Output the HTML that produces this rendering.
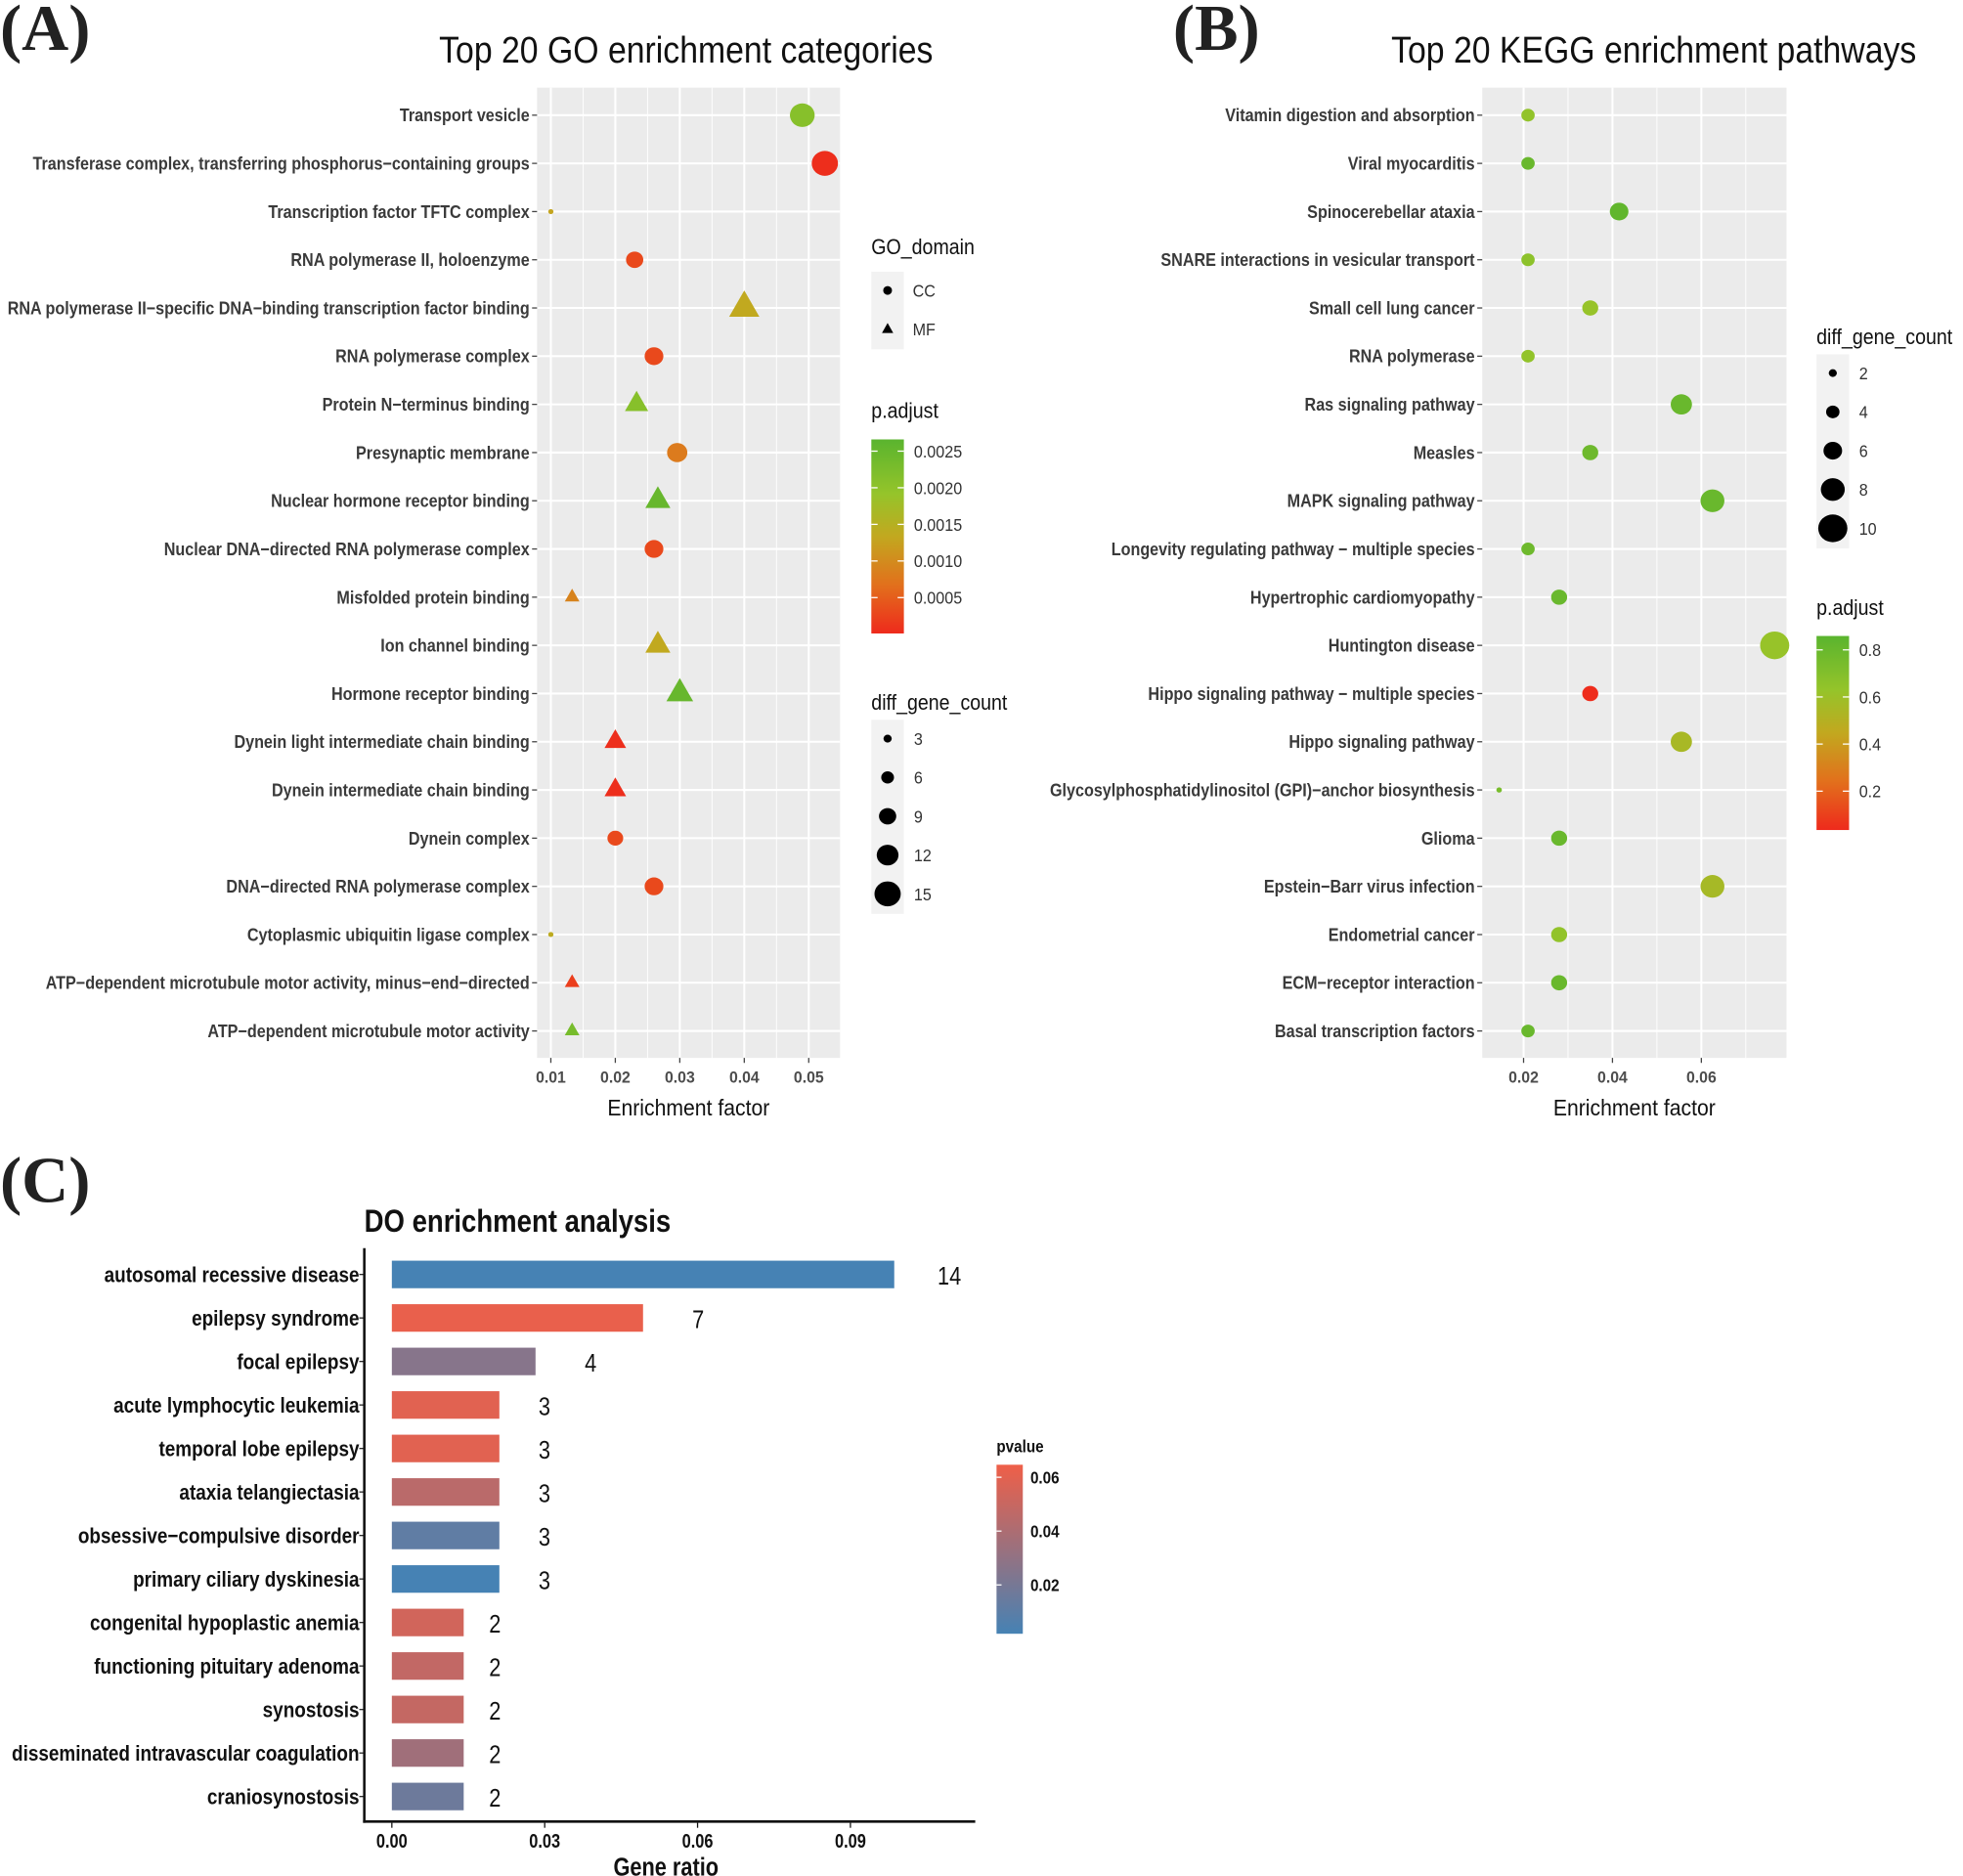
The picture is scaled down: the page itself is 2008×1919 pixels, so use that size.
<!DOCTYPE html>
<html><head><meta charset="utf-8"><style>
html,body{margin:0;padding:0;background:#fff;}
svg{display:block;}
</style></head><body>
<svg id="fig" xmlns="http://www.w3.org/2000/svg" width="2008" height="1919" viewBox="0 0 1568 1498.5" preserveAspectRatio="none" font-family="Liberation Sans, Arial, sans-serif">
<rect width="1568" height="1498.5" fill="#fff"/>
<text x="0" y="40" font-family="Liberation Serif, serif" font-weight="bold" font-size="52" fill="#222">(A)</text>
<text x="937" y="40" font-family="Liberation Serif, serif" font-weight="bold" font-size="52" fill="#222">(B)</text>
<text x="0" y="960" font-family="Liberation Serif, serif" font-weight="bold" font-size="52" fill="#222">(C)</text>
<g id="A"></g>
<g id="B"></g>
<g id="C"></g>
</svg>
<script>
// ---------- Panel A data ----------
const goTerms = ["Transport vesicle","Transferase complex, transferring phosphorus\u2212containing groups","Transcription factor TFTC complex","RNA polymerase II, holoenzyme","RNA polymerase II\u2212specific DNA\u2212binding transcription factor binding","RNA polymerase complex","Protein N\u2212terminus binding","Presynaptic membrane","Nuclear hormone receptor binding","Nuclear DNA\u2212directed RNA polymerase complex","Misfolded protein binding","Ion channel binding","Hormone receptor binding","Dynein light intermediate chain binding","Dynein intermediate chain binding","Dynein complex","DNA\u2212directed RNA polymerase complex","Cytoplasmic ubiquitin ligase complex","ATP\u2212dependent microtubule motor activity, minus\u2212end\u2212directed","ATP\u2212dependent microtubule motor activity"];
const goFactor = [0.049,0.0525,0.010,0.023,0.040,0.026,0.0233,0.0296,0.0266,0.026,0.0133,0.0266,0.030,0.020,0.020,0.020,0.026,0.010,0.0133,0.0133];
const goCount = [14,15,1,9,15,10,11,11,12,10,6,12,13,10,10,8,10,1,6,6];
const goPadj = [0.0021,0.00005,0.0013,0.0003,0.00135,0.0003,0.0021,0.0008,0.0025,0.0003,0.0009,0.00135,0.0025,0.00005,0.00005,0.0003,0.0003,0.0014,0.0002,0.0023];
const goDomain = ["CC","CC","CC","CC","MF","CC","MF","CC","MF","CC","MF","MF","MF","MF","MF","CC","CC","CC","MF","MF"];
const goTicks = [0.01,0.02,0.03,0.04,0.05];
const goPadjTicks = [0.0025,0.0020,0.0015,0.0010,0.0005];
const goSizeBreaks = [3,6,9,12,15];
// ---------- Panel B data ----------
const keggTerms = ["Vitamin digestion and absorption","Viral myocarditis","Spinocerebellar ataxia","SNARE interactions in vesicular transport","Small cell lung cancer","RNA polymerase","Ras signaling pathway","Measles","MAPK signaling pathway","Longevity regulating pathway \u2212 multiple species","Hypertrophic cardiomyopathy","Huntington disease","Hippo signaling pathway \u2212 multiple species","Hippo signaling pathway","Glycosylphosphatidylinositol (GPI)\u2212anchor biosynthesis","Glioma","Epstein\u2212Barr virus infection","Endometrial cancer","ECM\u2212receptor interaction","Basal transcription factors"];
const keggFactor = [0.021,0.021,0.0415,0.021,0.035,0.021,0.0555,0.035,0.0625,0.021,0.028,0.0765,0.035,0.0555,0.0145,0.028,0.0625,0.028,0.028,0.021];
const keggCount = [4,4,6,4,5,4,7,5,8,4,5,10,5,7,1,5,8,5,5,4];
const keggPadj = [0.64,0.8,0.83,0.66,0.62,0.64,0.8,0.78,0.8,0.78,0.8,0.62,0.04,0.55,0.74,0.8,0.56,0.64,0.8,0.8];
const keggTicks = [0.02,0.04,0.06];
const keggPadjTicks = [0.8,0.6,0.4,0.2];
const keggSizeBreaks = [2,4,6,8,10];
// ---------- Panel C data ----------
const doTerms = ["autosomal recessive disease","epilepsy syndrome","focal epilepsy","acute lymphocytic leukemia","temporal lobe epilepsy","ataxia telangiectasia","obsessive\u2212compulsive disorder","primary ciliary dyskinesia","congenital hypoplastic anemia","functioning pituitary adenoma","synostosis","disseminated intravascular coagulation","craniosynostosis"];
const doRatio = [0.0986,0.0493,0.0282,0.0211,0.0211,0.0211,0.0211,0.0211,0.0141,0.0141,0.0141,0.0141,0.0141];
const doCount = [14,7,4,3,3,3,3,3,2,2,2,2,2];
const doPvalue = [0.001,0.064,0.026,0.061,0.061,0.046,0.011,0.001,0.055,0.049,0.050,0.036,0.016];
const doTicks = [0.00,0.03,0.06,0.09];
const doPTicks = [0.06,0.04,0.02];

const NS="http://www.w3.org/2000/svg";
function el(tag, attrs, parent){const e=document.createElementNS(NS,tag);for(const k in attrs)e.setAttribute(k,attrs[k]);parent.appendChild(e);return e;}
function txt(parent,s,x,y,size,anchor,sx,fill,weight){
  const t=el('text',{transform:`translate(${x},${y}) scale(${sx},1)`,'text-anchor':anchor,'font-size':size,fill:fill,'font-weight':weight||'normal'},parent);
  t.textContent=s;return t;}
function hex(c){return [parseInt(c.slice(1,3),16),parseInt(c.slice(3,5),16),parseInt(c.slice(5,7),16)];}
function ramp(stops,f){f=Math.max(0,Math.min(1,f));for(let i=1;i<stops.length;i++){if(f<=stops[i][0]){const a=stops[i-1],b=stops[i];const t=(f-a[0])/(b[0]-a[0]);const ca=hex(a[1]),cb=hex(b[1]);return 'rgb('+ca.map((v,j)=>Math.round(v+(cb[j]-v)*t)).join(',')+')';}}return stops[stops.length-1][1];}
const RG=[[0,'#ee2a1c'],[0.25,'#e2701c'],[0.5,'#c2a81f'],[0.72,'#95c42a'],[1,'#5ab42e']];
const BR=[[0,'#4682b4'],[1,'#ef5f48']];
let gid=0;
function vgrad(svg,stops){const id='g'+(gid++);let defs=svg.querySelector('defs')||el('defs',{},svg);const g=el('linearGradient',{id:id,x1:0,y1:1,x2:0,y2:0},defs);stops.forEach(s=>el('stop',{offset:s[0],'stop-color':s[1]},g));return id;}
const svg=document.getElementById('fig');
const rowY=i=>92+i*38.5;
const RY=0.95;

function dotPanel(g, o){
  const xs=v=>o.px0+(v-o.v0)*o.k;
  const bg=el('rect',{x:o.L,y:70,width:o.R-o.L,height:775,fill:'#ebebeb'},g);
  
  
  o.minor.forEach(v=>{const l=el('line',{x1:xs(v),x2:xs(v),y1:70,y2:845,stroke:'#fff','stroke-width':0.7},g);
    
    });
  o.ticks.forEach(v=>{const l=el('line',{x1:xs(v),x2:xs(v),y1:70,y2:845,stroke:'#fff','stroke-width':1.6},g);
    
    
    const tk=el('line',{x1:xs(v),x2:xs(v),y1:845,y2:849,stroke:'#444','stroke-width':1},g);
    
    
    const t=txt(g,v.toFixed(2),xs(v),865,13,'middle',0.95,'#4d4d4d','bold');
    
    });
  o.terms.forEach((s,i)=>{const y=rowY(i);
    const l=el('line',{x1:o.L,x2:o.R,y1:y,y2:y,stroke:'#fff','stroke-width':1.6},g);
    
    
    const tk=el('line',{x1:o.L-4,x2:o.L,y1:y,y2:y,stroke:'#444','stroke-width':1},g);
    
    
    const t=txt(g,s,o.L-6,y+5,14.5,'end',0.87,'#3a3a3a','bold');
    
    });
  o.terms.forEach((s,i)=>{const x=xs(o.fac[i]),y=rowY(i);const rx=o.rx(o.cnt[i]),ry=rx*RY;const col=ramp(RG,(o.padj[i]-o.pmin)/(o.pmax-o.pmin));
    let m;
    if(o.dom && o.dom[i]==='MF'){const h=rx*1.15,H=rx*2.0;m=el('polygon',{points:`${x-h},${y+H/3} ${x+h},${y+H/3} ${x},${y-2*H/3}`,fill:col},g);}
    else m=el('ellipse',{cx:x,cy:y,rx:rx,ry:ry,fill:col},g);
    
    });
  const xt=txt(g,'Enrichment factor',(o.L+o.R)/2,891,18,'middle',0.92,'#111');
  
  
  const tt=txt(g,o.title,o.titleX,50,30,'middle',0.88,'#111');
  
  
  return xs;
}
function colorLegend(g,x,top,bot,title,ticks,pmin,pmax,stops,fmt){
  const t=txt(g,title,x,top-17,17,'start',0.9,'#111');
  
  
  const id=vgrad(svg,stops);
  const r=el('rect',{x:x,y:top,width:26,height:bot-top,fill:`url(#${id})`},g);
  
  
  ticks.forEach(v=>{const y=bot-(v-pmin)/(pmax-pmin)*(bot-top);
    const l=el('line',{x1:x,x2:x+5,y1:y,y2:y,stroke:'#fff','stroke-width':1},g);
    
    
    const l2=el('line',{x1:x+21,x2:x+26,y1:y,y2:y,stroke:'#fff','stroke-width':1},g);
    
    
    const tl=txt(g,fmt(v),x+34,y+5,14,'start',0.9,'#333');
    
    });
}
function sizeLegend(g,x,top,title,breaks,rxf){
  const t=txt(g,title,x,top-8,17,'start',0.9,'#111');
  
  
  const b=el('rect',{x:x,y:top,width:26,height:breaks.length*31,fill:'#f2f2f2'},g);
  
  
  breaks.forEach((n,i)=>{const y=top+15+i*31;const rx=rxf(n);
    const e=el('ellipse',{cx:x+13,cy:y,rx:rx,ry:rx*RY,fill:'#000'},g);
    
    
    const tl=txt(g,String(n),x+34,y+5,14,'start',0.9,'#333');
    
    });
}
// Panel A
const gA=document.getElementById('A');
const rxA=n=>1.5+0.6*n;
dotPanel(gA,{L:429,R:671,px0:440,v0:0.01,k:5150,ticks:goTicks,minor:[0.015,0.025,0.035,0.045],terms:goTerms,fac:goFactor,cnt:goCount,padj:goPadj,dom:goDomain,pmin:0.00001,pmax:0.00266,rx:rxA,title:'Top 20 GO enrichment categories',titleX:548});
(function(){const g=gA;
  const t=txt(g,'GO_domain',696,203,17,'start',0.9,'#111');
  
  
  const b=el('rect',{x:696,y:217,width:26,height:62,fill:'#f2f2f2'},g);
  
  
  const c=el('ellipse',{cx:709,cy:232,rx:3.5,ry:3.5,fill:'#000'},g);
  
  
  const p=el('polygon',{points:'704.5,266 713.5,266 709,258',fill:'#000'},g);
  
  
  const l1=txt(g,'CC',729,237,14,'start',0.9,'#333');
  
  
  const l2=txt(g,'MF',729,268,14,'start',0.9,'#333');
  
  })();
colorLegend(gA,696,351,506,'p.adjust',goPadjTicks,0.00001,0.00266,RG,v=>v.toFixed(4));
sizeLegend(gA,696,575,'diff_gene_count',goSizeBreaks,rxA);
// Panel B
const gB=document.getElementById('B');
const rxB=n=>2.2+1.05*(n-1);
dotPanel(gB,{L:1184,R:1427,px0:1217,v0:0.02,k:3550,ticks:keggTicks,minor:[0.03,0.05,0.07],terms:keggTerms,fac:keggFactor,cnt:keggCount,padj:keggPadj,dom:null,pmin:0.035,pmax:0.859,rx:rxB,title:'Top 20 KEGG enrichment pathways',titleX:1321});
sizeLegend(gB,1451,283,'diff_gene_count',keggSizeBreaks,rxB);
colorLegend(gB,1451,508,663,'p.adjust',keggPadjTicks,0.035,0.859,RG,v=>v.toFixed(1));
// Panel C
(function(){const g=document.getElementById('C');
  const xs=v=>313+v*4070;const y0=1018,dy=34.75;
  const tt=txt(g,'DO enrichment analysis',291,984,25,'start',0.86,'#111','bold');
  
  
  doTerms.forEach((s,i)=>{const y=y0+i*dy;const col=ramp(BR,(doPvalue[i]-0.001)/0.0655);
    const r=el('rect',{x:xs(0),y:y-11,width:xs(doRatio[i])-xs(0),height:22,fill:col},g);
    
    
    const tk=el('line',{x1:287,x2:291,y1:y,y2:y,stroke:'#222','stroke-width':1},g);
    
    
    const t=txt(g,s,287,y+6,17.5,'end',0.845,'#111','bold');
    
    
    const off=Math.min(11*doCount[i]+3,44);
    const v=txt(g,String(doCount[i]),xs(doRatio[i])+off,y+8,20,'middle',0.85,'#111');
    
    });
  const ya=el('line',{x1:291,x2:291,y1:997,y2:1456,stroke:'#111','stroke-width':2},g);
  
  
  const xa=el('line',{x1:290,x2:779,y1:1455,y2:1455,stroke:'#111','stroke-width':2},g);
  
  
  doTicks.forEach(v=>{const tk=el('line',{x1:xs(v),x2:xs(v),y1:1456,y2:1460,stroke:'#111','stroke-width':1},g);
    
    
    const t=txt(g,v.toFixed(2),xs(v),1476,16,'middle',0.8,'#111','bold');
    
    });
  const xt=txt(g,'Gene ratio',532,1498,20,'middle',0.85,'#111','bold');
  
  
  const lt=txt(g,'pvalue',796,1160,14,'start',0.85,'#111','bold');
  
  
  const id=vgrad(svg,BR);
  const cb=el('rect',{x:796,y:1170,width:21,height:135,fill:`url(#${id})`},g);
  
  
  doPTicks.forEach(v=>{const y=1309-v*2150;
    const l=el('line',{x1:796,x2:800,y1:y,y2:y,stroke:'#fff','stroke-width':1},g);
    
    
    const t=txt(g,v.toFixed(2),823,y+5,14,'start',0.85,'#111','bold');
    
    });
})();
</script>
</body></html>
